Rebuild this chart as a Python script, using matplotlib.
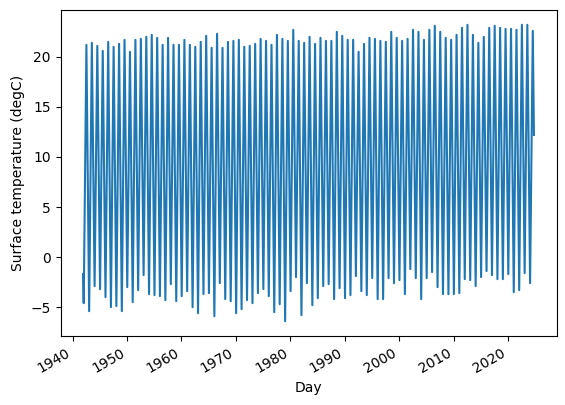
import numpy as np
import matplotlib
matplotlib.use("Agg")
import matplotlib.pyplot as plt

years = list(range(1942, 2025))

jan_min = [-4.6, -5.4, -2.9, -3.2, -4.0, -5.0, -4.9, -5.4, -3.0, -4.5,
           -3.3, -1.8, -3.7, -3.8, -3.9, -4.3, -2.7, -4.4, -3.9, -3.4,
           -5.0, -5.6, -3.7, -3.6, -5.9, -2.6, -4.2, -4.4, -5.6, -5.2,
           -4.3, -4.6, -3.6, -3.2, -3.9, -5.5, -4.7, -6.4, -3.4, -2.0,
           -5.8, -2.6, -4.8, -4.1, -2.9, -2.7, -4.2, -3.1, -4.1, -3.8,
           -1.9, -3.4, -3.8, -2.1, -4.2, -4.2, -2.1, -2.6, -2.3, -3.7,
           -1.2, -2.1, -4.2, -2.1, -1.5, -3.0, -3.7, -3.7, -3.7, -3.6,
           -2.2, -2.3, -2.9, -2.0, -1.4, -1.8, -2.2, -2.2, -1.7, -3.5,
           -3.3, -1.6, -2.6]

jul_max = [21.2, 21.4, 21.1, 20.6, 21.5, 21.0, 21.3, 21.7, 20.5, 21.7,
           21.8, 22.0, 22.2, 21.9, 21.2, 21.9, 21.2, 21.2, 21.7, 21.2,
           21.0, 21.5, 22.1, 20.9, 22.3, 20.9, 21.5, 21.6, 21.7, 21.0,
           21.1, 21.3, 21.8, 21.6, 21.2, 22.2, 21.8, 21.6, 22.7, 21.6,
           21.4, 22.0, 21.3, 21.9, 21.6, 21.6, 22.5, 22.1, 21.7, 21.7,
           20.5, 21.3, 21.9, 21.8, 21.6, 21.5, 22.5, 21.9, 21.6, 21.8,
           22.7, 22.5, 21.7, 22.7, 23.1, 22.5, 21.9, 21.7, 22.2, 22.9,
           23.2, 22.2, 21.4, 22.0, 22.9, 23.1, 22.9, 22.8, 22.8, 22.7,
           23.2, 23.2, 22.6]

start_date, start_value = "1941-12-01", -1.7
end_date, end_value = "2024-10-01", 12.2

dates = [np.datetime64(start_date)]
values = [start_value]
for y, lo, hi in zip(years, jan_min, jul_max):
    dates.append(np.datetime64(f"{y}-01-15"))
    values.append(lo)
    dates.append(np.datetime64(f"{y}-07-15"))
    values.append(hi)
dates.append(np.datetime64(end_date))
values.append(end_value)
dates = np.array(dates, dtype="datetime64[D]")

fig = plt.figure(figsize=(5.65, 4.05), dpi=100)
ax = fig.add_axes([60.5 / 565, (405 - 336) / 405, 496 / 565, 326 / 405])
ax.plot(dates, values, color="#1f77b4", linewidth=1.5)
ax.set_xlabel("Day")
ax.set_ylabel("Surface temperature (degC)")
fig.autofmt_xdate()
ax.set_position([60.5 / 565, (405 - 336) / 405, 496 / 565, 326 / 405])
fig.savefig("out.png", dpi=100)
